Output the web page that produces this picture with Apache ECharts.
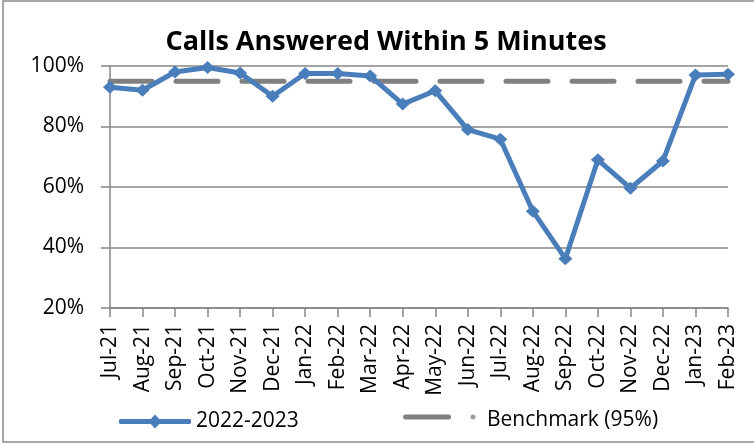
<!DOCTYPE html>
<html>
<head>
<meta charset="utf-8">
<script src="https://cdn.jsdelivr.net/npm/echarts@6/dist/echarts.min.js"></script>
<style>
  html, body { margin: 0; padding: 0; background: #fff; }
  #chart { width: 754px; height: 445px; }
</style>
</head>
<body>
<div id="chart"></div>
<script>
// months on the x axis
const months = ['Jul-21', 'Aug-21', 'Sep-21', 'Oct-21', 'Nov-21', 'Dec-21', 'Jan-22', 'Feb-22', 'Mar-22', 'Apr-22',
    'May-22', 'Jun-22', 'Jul-22', 'Aug-22', 'Sep-22', 'Oct-22', 'Nov-22', 'Dec-22', 'Jan-23', 'Feb-23'];
// % of calls answered within 5 minutes
const answered = [93, 92, 98, 99.5, 97.7, 90, 97.5, 97.5, 96.7, 87.4,
    91.8, 79, 75.8, 52, 36.3, 69, 59.6, 68.6, 97, 97.3];
// benchmark line
const benchmark = [95, 95, 95, 95, 95, 95, 95, 95, 95, 95,
    95, 95, 95, 95, 95, 95, 95, 95, 95, 95];

const font = 'Open Sans';
const chart = echarts.init(document.getElementById('chart'));

// legend icon: thick line + diamond, like the office-style legend
const seriesIcon = 'path://M1,4.5 L71,4.5 L72,5.5 L72,8.5 L71,9.5 L1,9.5 L0,8.5 L0,5.5 Z M36,0 L42.5,7 L36,14 L29.5,7 Z';

const option = {
    animation: false,
    backgroundColor: '#fff',
    textStyle: { fontFamily: font },
    title: {
        text: 'Calls Answered Within 5 Minutes',
        left: 381,
        top: 24,
        textAlign: 'center',
        textStyle: { fontFamily: font, fontSize: 27, fontWeight: 'bold', color: '#000' }
    },
    grid: { left: 110, right: 26, top: 66, bottom: 137 },
    legend: [{
        data: [{
            name: '2022-2023',
            icon: seriesIcon,
            itemStyle: { color: '#4a7ebb', borderWidth: 0, borderType: 'solid', opacity: 1 }
        }],
        left: 114,
        top: 406,
        itemWidth: 72,
        itemHeight: 14,
        itemGap: 6,
        textStyle: { fontFamily: font, fontSize: 21, color: '#000' }
    }, {
        // icon drawn by the graphic below (solid bar + dot)
        data: [{ name: 'Benchmark (95%)', icon: 'none' }],
        left: 403,
        top: 405,
        itemWidth: 74,
        itemHeight: 14,
        textStyle: { fontFamily: font, fontSize: 21, color: '#000' }
    }],
    xAxis: {
        type: 'category',
        data: months,
        boundaryGap: false,
        axisLine: { lineStyle: { color: '#868686', width: 1.5 } },
        axisTick: { show: true, length: 9, alignWithLabel: true, lineStyle: { color: '#868686', width: 1.5 } },
        axisLabel: { rotate: 90, interval: 0, fontSize: 21, color: '#000', margin: 16, fontFamily: font }
    },
    yAxis: {
        type: 'value',
        min: 20,
        max: 100,
        interval: 20,
        axisLine: { show: true, lineStyle: { color: '#868686', width: 1.5 } },
        axisTick: { show: true, length: 9, lineStyle: { color: '#868686', width: 1.5 } },
        splitLine: { lineStyle: { color: '#868686', width: 1.5 } },
        axisLabel: { formatter: '{value}%', fontSize: 21, color: '#000', margin: 26, fontFamily: font }
    },
    series: [{
        name: 'Benchmark (95%)',
        type: 'line',
        data: benchmark,
        symbol: 'none',
        itemStyle: { color: '#808080' },
        lineStyle: { color: '#808080', width: 5, type: [42, 24], cap: 'round' },
        z: 1
    }, {
        name: '2022-2023',
        type: 'line',
        data: answered,
        symbol: 'diamond',
        symbolSize: [14, 13],
        itemStyle: { color: '#4a7ebb' },
        lineStyle: { color: '#4a7ebb', width: 5 },
        z: 2
    }],
    graphic: [{
        type: 'rect',
        shape: { x: 3, y: 1, width: 760, height: 441 },
        style: { fill: 'none', stroke: '#8a8a8a', lineWidth: 1.5 },
        silent: true
    }, {
        type: 'rect',
        shape: { x: 403, y: 414.5, width: 48, height: 5, r: 2.5 },
        style: { fill: '#808080' },
        silent: true
    }, {
        type: 'circle',
        shape: { cx: 473, cy: 417, r: 2.5 },
        style: { fill: '#9a9a9a' },
        silent: true
    }]
};
chart.setOption(option);
</script>
</body>
</html>
